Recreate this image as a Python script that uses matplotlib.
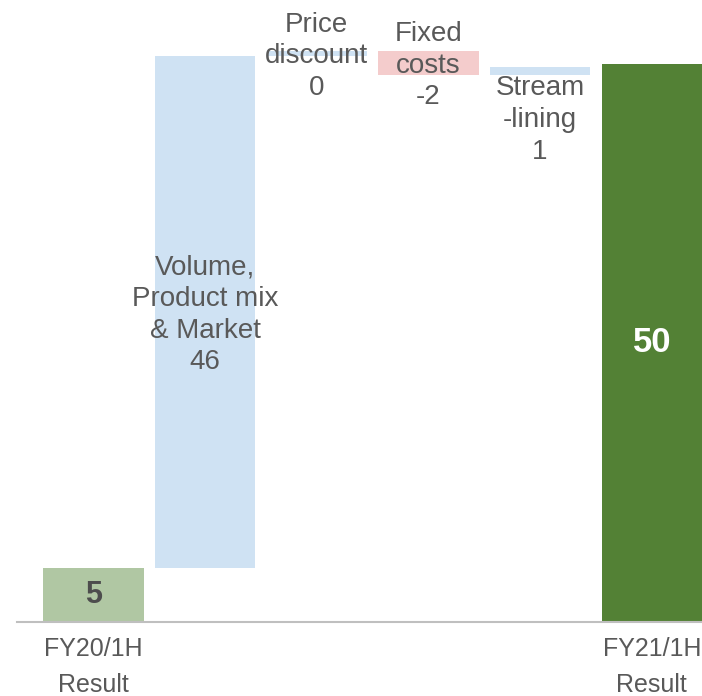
import matplotlib
matplotlib.use('Agg')
import matplotlib.pyplot as plt
import numpy as np

# waterfall data
steps = ["FY20/1H\nResult", "Volume,\nProduct mix\n& Market", "Price\ndiscount",
         "Fixed\ncosts", "Stream\n-lining", "FY21/1H\nResult"]
values = [4.8, 45.9, 0.4, -2.1, 0.7, 50.0]
shown = ["5", "46", "0", "-2", "1", "50"]
tick_labels = ["FY20/1H\nResult", "", "", "", "", "FY21/1H\nResult"]

plt.rcParams['font.family'] = ['Liberation Sans', 'DejaVu Sans']
TEXT = '#595959'
colors = ['#b0c7a3', '#cfe2f3', '#cfe2f3', '#f4cccc', '#cfe2f3', '#538135']

# cumulative bottoms; first and last bars start at zero
bottoms = []
running = 0.0
for i, v in enumerate(values):
    if i == 0 or i == len(values) - 1:
        bottoms.append(0.0)
        running = v if i == 0 else running
    else:
        bottoms.append(running if v >= 0 else running + v)
        running += v

fig = plt.figure(figsize=(7.02, 6.96), dpi=100)
ax = fig.add_axes([17 / 702, 74 / 696, 685 / 702, 622 / 696])
x = np.arange(len(values))
ax.bar(x, np.abs(values), bottom=bottoms, width=0.9, color=colors, zorder=2)

ax.set_xlim(-0.685, 5.45)
ax.set_ylim(0, 55.7)

for i, v in enumerate(values):
    mid = bottoms[i] + abs(v) / 2
    if i == 0:
        ax.text(i, mid, shown[i], ha='center', va='center', fontsize=22,
                fontweight='bold', color='#4d4d4d')
    elif i == len(values) - 1:
        ax.text(i, mid, shown[i], ha='center', va='center', fontsize=25,
                fontweight='bold', color='white')
    elif i == 4:
        ax.text(i, bottoms[i] - 0.05, steps[i] + "\n" + shown[i], ha='center',
                va='top', fontsize=20, color=TEXT, linespacing=1.28)
    else:
        ax.text(i, mid - 0.25, steps[i] + "\n" + shown[i], ha='center', va='center',
                fontsize=20, color=TEXT, linespacing=1.28)

ax.set_xticks(x)
ax.set_xticklabels(tick_labels, fontsize=18, color=TEXT, linespacing=1.6)
ax.tick_params(axis='x', length=0, pad=11)
ax.set_yticks([])
for s in ['top', 'right', 'left']:
    ax.spines[s].set_visible(False)
ax.spines['bottom'].set_color('#bfbfbf')
ax.spines['bottom'].set_linewidth(1.5)
ax.spines['bottom'].set_zorder(3)

fig.savefig('out.png', dpi=100)
